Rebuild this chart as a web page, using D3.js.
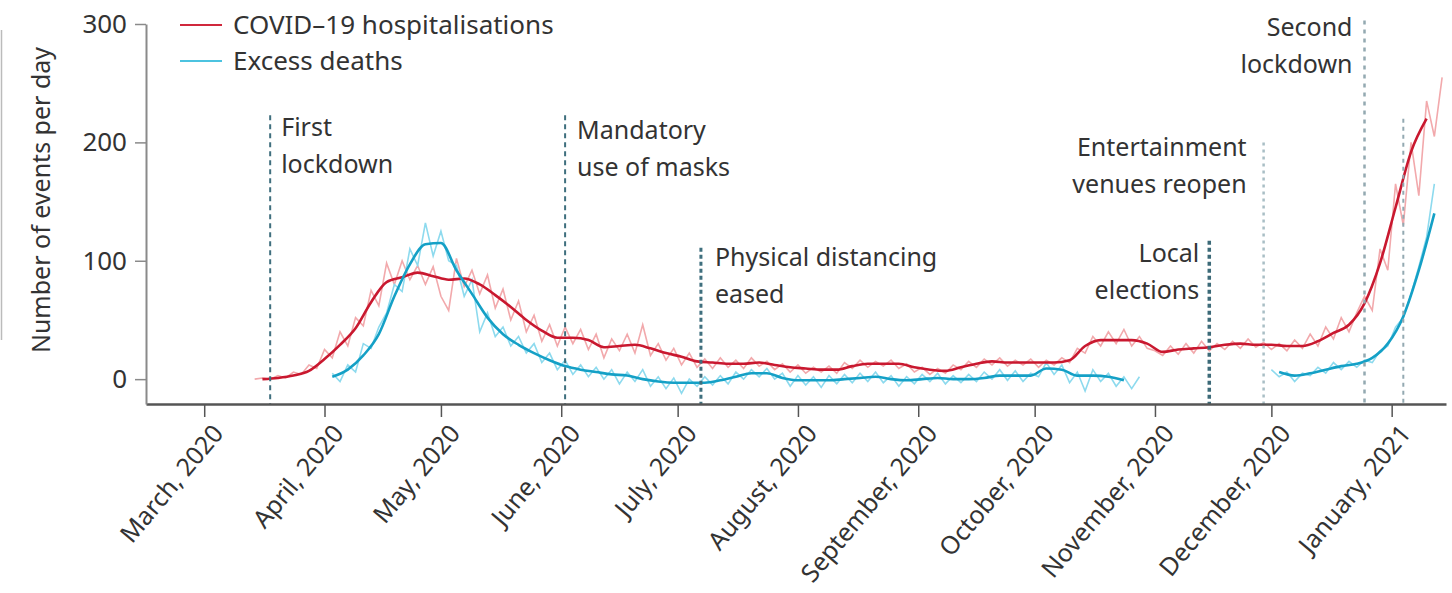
<!DOCTYPE html>
<html>
<head>
<meta charset="utf-8">
<script src="https://cdn.jsdelivr.net/npm/d3@7"></script>
<style>
  body { margin: 0; background: #fff; }
  svg text { font-family: "Noto Sans", "Open Sans", sans-serif; fill: #333; }
</style>
</head>
<body>
<div class="container"></div>
<script>
const width = 1452;
const height = 593;

// x axis ticks
const monthTicks = ['2020-03-01', '2020-04-01', '2020-05-01', '2020-06-01', '2020-07-01', '2020-08-01',
  '2020-09-01', '2020-10-01', '2020-11-01', '2020-12-01', '2021-01-01'];
const monthLabels = ['March, 2020', 'April, 2020', 'May, 2020', 'June, 2020', 'July, 2020', 'August, 2020',
  'September, 2020', 'October, 2020', 'November, 2020', 'December, 2020', 'January, 2021'];
const yTicks = [0, 100, 200, 300];

const seriesNames = ['COVID\u201319 hospitalisations', 'Excess deaths'];

const hospRawStart = '2020-03-14';
const hospRaw = [0, 1, 0, 3, 1, 6, 4, 12, 9, 25, 18, 40, 28, 52, 45, 75, 62, 98, 80, 100,
  84, 96, 80, 95, 70, 58, 102, 78, 92, 72, 88, 60, 76, 50, 66, 40, 54, 32, 46, 28,
  44, 30, 42, 25, 38, 18, 34, 24, 38, 22, 46, 20, 30, 16, 26, 12, 22, 10, 17, 9,
  18, 10, 16, 9, 18, 11, 15, 8, 13, 6, 12, 5, 10, 6, 11, 5, 14, 9, 16, 10,
  15, 11, 16, 9, 13, 6, 10, 4, 9, 5, 12, 8, 15, 10, 17, 12, 18, 11, 16, 12,
  17, 10, 16, 12, 18, 14, 26, 22, 36, 28, 40, 30, 42, 28, 36, 26, 24, 20, 28, 21,
  30, 22, 32, 24, 30, 25, 32, 26, 34, 27, 31, 25, 30, 24, 33, 26, 38, 28, 44, 34,
  52, 40, 56, 70, 58, 110, 92, 165, 130, 200, 155, 235, 205, 255];

// COVID-19 hospitalisations, smoothed (every 4th day), from 16 March 2020
const hospSmoothStart = '2020-03-16';
const hospSmooth = [0, 1, 3, 7, 17, 29, 43, 65, 82, 86, 90, 87, 84, 85, 80, 71, 61, 50, 41, 35,
  35, 33, 27, 28, 29, 26, 22, 19, 15, 14, 13, 13, 14, 12, 10, 9, 8, 8, 11, 13,
  13, 13, 10, 8, 7, 10, 13, 15, 14, 14, 14, 14, 16, 28, 33, 33, 33, 30, 23, 25,
  26, 27, 29, 30, 29, 29, 28, 28, 32, 39, 46, 64, 98, 145, 192, 220];

const deathsRawStart = '2020-04-03';
const deathsRaw = [5, -2, 12, 6, 30, 26, 44, 56, 80, 74, 110, 96, 132, 104, 125, 100, 96, 70, 84, 40,
  56, 36, 44, 28, 36, 22, 30, 14, 22, 8, 16, 4, 12, 2, 10, 0, 8, -4, 6, -2,
  8, -6, 2, -8, 1, -12, 0, -6, 2, -5, 3, -4, 6, 0, 8, 2, 9, 0, 5, -6,
  3, -5, 2, -7, 3, -4, 4, -3, 5, -2, 6, -3, 3, -6, 2, -4, 4, -2, 5, -4,
  3, -3, 4, -2, 6, 0, 8, -1, 7, -2, 5, 2, 14, 4, 12, -3, 6, -10, 8, -2,
  5, -6, 2, -8, 2,
  null, null, null, null, null, null, null, null, null, null, null, null, null, null, null, null,
  8, 2, 6, -2, 5, 3, 10, 5, 14, 8, 15, 10, 16, 14, 24, 28, 44, 52, 72, 95,
  120, 165];

// Excess deaths, smoothed (every 4th day), from 3 April 2020
const deathsSmoothStart = '2020-04-03';
const deathsSmooth = [2, 8, 20, 38, 70, 97, 114, 115, 92, 72, 52, 38, 29, 22, 16, 11, 8, 6, 4, 3,
  0, -2, -3, -3, -3, -1, 2, 5, 5, 1, -1, -1, -1, 0, 1, 2, 0, -1, 0, 1,
  0, 0, 1, 3, 3, 3, 9, 8, 3, 3, 2, -1,
  null, null, null, null, null, null, null, null, null,
  6, 3, 5, 8, 11, 13, 18, 30, 53, 92, 140];

// events (vertical reference lines)
const eventDates = ['2020-03-18', '2020-06-02', '2020-07-07', '2020-11-15', '2020-11-29', '2020-12-25', '2021-01-04'];
const eventTops = [223, 223, 111, 117, 200, 303, 220];
const eventLabels = [['First', 'lockdown'], ['Mandatory', 'use of masks'], ['Physical distancing', 'eased'],
  ['Local', 'elections'], ['Entertainment', 'venues reopen'], ['Second', 'lockdown'], []];

// layout / style per event
const eventStyle = [
  { color: '#3f6f7e', w: 2, dash: '5,4', dx: 11, dy: 21 },
  { color: '#3f6f7e', w: 2, dash: '5,4', dx: 12, dy: 24 },
  { color: '#3f6f7e', w: 3, dash: '4,3', dx: 14, dy: 18 },
  { color: '#3c6a78', w: 3.5, dash: '4,3', dx: -10, dy: 21 },
  { color: '#a9bec5', w: 2.5, dash: '3,4', dx: -17, dy: 14 },
  { color: '#93a9b1', w: 2.5, dash: '4,5', dx: -12, dy: 16 },
  { color: '#93a9b1', w: 2, dash: '4,4', dx: 0, dy: 0 }
];

const parse = d3.utcParse('%Y-%m-%d');
const seq = (start, step, values) => values.map((v, i) => ({ date: d3.utcDay.offset(parse(start), i * step), value: v }));

const xScale = d3.scaleUtc()
  .domain([parse('2020-02-15'), parse('2021-01-15')])
  .range([146, 1446]);
const yScale = d3.scaleLinear()
  .domain([-21, 300])
  .range([404, 24]);

const svg = d3.select('.container')
  .append('svg')
  .attr('width', width)
  .attr('height', height);

// stray panel frame at the left edge
svg.append('line')
  .attr('x1', 1.5).attr('x2', 1.5).attr('y1', 30).attr('y2', 340)
  .attr('stroke', '#bbb').attr('stroke-width', 1.5);

const line = d3.line()
  .defined(d => d.value !== null)
  .x(d => xScale(d.date))
  .y(d => yScale(d.value));
const smoothLine = d3.line()
  .defined(d => d.value !== null)
  .curve(d3.curveMonotoneX)
  .x(d => xScale(d.date))
  .y(d => yScale(d.value));

svg.append('path')
  .datum(seq(hospRawStart, 2, hospRaw))
  .attr('fill', 'none').attr('stroke', '#f2a9ac').attr('stroke-width', 1.6)
  .attr('d', line);
svg.append('path')
  .datum(seq(deathsRawStart, 2, deathsRaw))
  .attr('fill', 'none').attr('stroke', '#8ddaee').attr('stroke-width', 1.6)
  .attr('d', line);
svg.append('path')
  .datum(seq(hospSmoothStart, 4, hospSmooth))
  .attr('fill', 'none').attr('stroke', '#c9182f').attr('stroke-width', 2.6)
  .attr('d', smoothLine);
svg.append('path')
  .datum(seq(deathsSmoothStart, 4, deathsSmooth))
  .attr('fill', 'none').attr('stroke', '#14a0c6').attr('stroke-width', 2.6)
  .attr('d', smoothLine);

// event lines and labels
const events = svg.selectAll('.event')
  .data(eventDates.map((d, i) => ({ date: parse(d), top: eventTops[i], label: eventLabels[i], s: eventStyle[i] })))
  .enter()
  .append('g')
  .attr('class', 'event');
events.append('line')
  .attr('x1', d => xScale(d.date)).attr('x2', d => xScale(d.date))
  .attr('y1', d => yScale(d.top)).attr('y2', yScale(-21))
  .attr('stroke', d => d.s.color)
  .attr('stroke-width', d => d.s.w)
  .attr('stroke-dasharray', d => d.s.dash);
events.each(function (d) {
  const g = d3.select(this);
  d.label.forEach((t, k) => {
    g.append('text')
      .attr('x', xScale(d.date) + d.s.dx)
      .attr('y', yScale(d.top) + d.s.dy + k * 37)
      .attr('text-anchor', d.s.dx > 0 ? 'start' : 'end')
      .attr('font-size', 25)
      .text(t);
  });
});

// x axis
const xAxis = d3.axisBottom(xScale)
  .tickValues(monthTicks.map(parse))
  .tickSize(13)
  .tickSizeOuter(0)
  .tickFormat((d, i) => monthLabels[i]);
const gx = svg.append('g')
  .attr('transform', `translate(0, ${yScale(-21)})`)
  .call(xAxis);
gx.select('.domain').attr('stroke', '#555').attr('stroke-width', 2.5);
gx.selectAll('.tick line').attr('stroke', '#555').attr('stroke-width', 1.5);
gx.selectAll('.tick text')
  .attr('x', 0).attr('y', 0).attr('dy', 0)
  .attr('transform', 'translate(20, 30) rotate(-50)')
  .attr('text-anchor', 'end')
  .attr('font-size', 25);

// y axis
const yAxis = d3.axisLeft(yScale)
  .tickValues(yTicks)
  .tickSize(11)
  .tickSizeOuter(0)
  .tickPadding(8);
const gy = svg.append('g')
  .attr('transform', `translate(${xScale.range()[0]}, 0)`)
  .call(yAxis);
gy.select('.domain').attr('stroke', '#8a8a8a').attr('stroke-width', 2);
gy.selectAll('.tick line').attr('stroke', '#8a8a8a').attr('stroke-width', 1.5);
gy.selectAll('.tick text').attr('font-size', 26);

// y axis label
svg.append('text')
  .attr('transform', 'rotate(-90)')
  .attr('x', -200)
  .attr('y', 50)
  .attr('text-anchor', 'middle')
  .attr('font-size', 25)
  .text('Number of events per day');

// legend
const legendColors = ['#d0283c', '#4cc3e0'];
const legend = svg.selectAll('.legend')
  .data(seriesNames)
  .enter()
  .append('g')
  .attr('class', 'legend')
  .attr('transform', (d, i) => `translate(180, ${25 + i * 36})`);
legend.append('line')
  .attr('x1', 0).attr('x2', 42)
  .attr('stroke', (d, i) => legendColors[i])
  .attr('stroke-width', 2);
legend.append('text')
  .attr('x', 53)
  .attr('y', 9)
  .attr('font-size', 26)
  .text(d => d);
</script>
</body>
</html>
